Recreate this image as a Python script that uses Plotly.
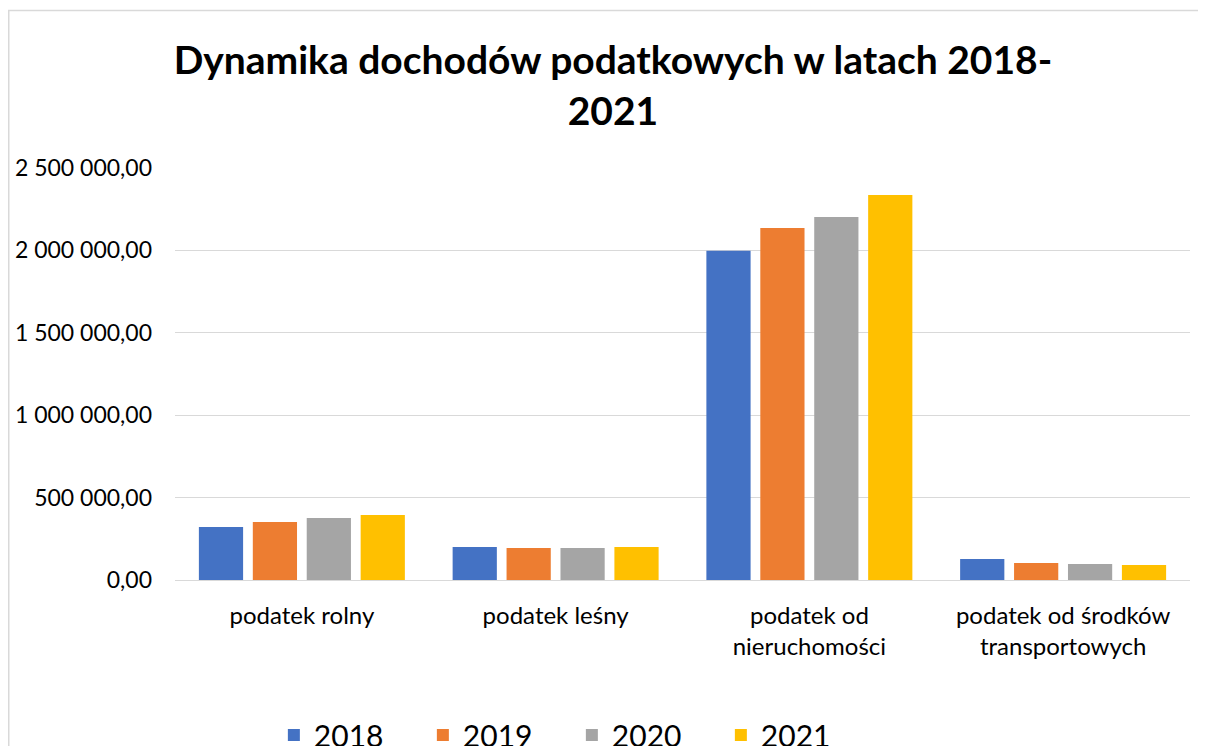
import plotly.graph_objects as go

categories = ["podatek rolny", "podatek leśny", "podatek od<br>nieruchomości",
              "podatek od środków<br>transportowych"]
years = ["2018", "2019", "2020", "2021"]
v2018 = [322000, 200000, 1998000, 127000]
v2019 = [352000, 194000, 2136000, 103000]
v2020 = [376000, 194000, 2203000, 97000]
v2021 = [394000, 200000, 2336000, 91000]
colors = ["#4472C4", "#ED7D31", "#A5A5A5", "#FFC000"]

fig = go.Figure()
for name, vals, col in zip(years, [v2018, v2019, v2020, v2021], colors):
    fig.add_trace(go.Bar(
        x=categories, y=vals, name=name,
        marker=dict(color=col, line=dict(width=0)),
    ))

font_family = "Lato, Carlito, Calibri, sans-serif"

# page body has an 8px margin, so the figure is sized to fit the window
W, H = 1198, 738
L, R, T, B = 167, 16, 160, 166
pw, ph = W - L - R, H - T - B

fig.update_layout(
    width=W, height=H,
    paper_bgcolor="white", plot_bgcolor="white",
    separators=", ",
    barmode="group", bargap=0.15, bargroupgap=0.18,
    margin=dict(l=L, r=R, t=T, b=B, autoexpand=False),
    title=dict(
        text="<b>Dynamika dochodów podatkowych w latach 2018-<br>2021</b>",
        x=0.505, xanchor="center", y=0.91, yanchor="top",
        font=dict(family=font_family, size=39, color="#000000"),
    ),
    font=dict(family=font_family, color="#000000"),
    legend=dict(
        orientation="h", x=0.391, xanchor="center", y=-0.376, yanchor="middle",
        font=dict(size=30, color="#000000"), traceorder="normal",
        entrywidth=104,
    ),
    showlegend=True,
)

fig.update_yaxes(
    range=[0, 2500000], dtick=500000, tickformat=",.2f",
    showgrid=True, gridcolor="#D9D9D9", gridwidth=1,
    zeroline=False, showline=False,
    tickfont=dict(size=23), ticklabelstandoff=22,
)
fig.update_xaxes(
    showline=True, linecolor="#D9D9D9", linewidth=1,
    tickfont=dict(size=24), ticklabelstandoff=14,
)

# chart area border (extends beyond the visible frame on the right/bottom)
fig.add_shape(type="rect", xref="paper", yref="paper",
              x0=(0.75 - L) / pw, x1=(W + 10 - L) / pw,
              y0=-(H + 10 - T - ph) / ph, y1=(ph + T - 2.5) / ph,
              line=dict(color="#D9D9D9", width=1.5), fillcolor="rgba(0,0,0,0)",
              layer="below")

fig.write_html("out.html")
